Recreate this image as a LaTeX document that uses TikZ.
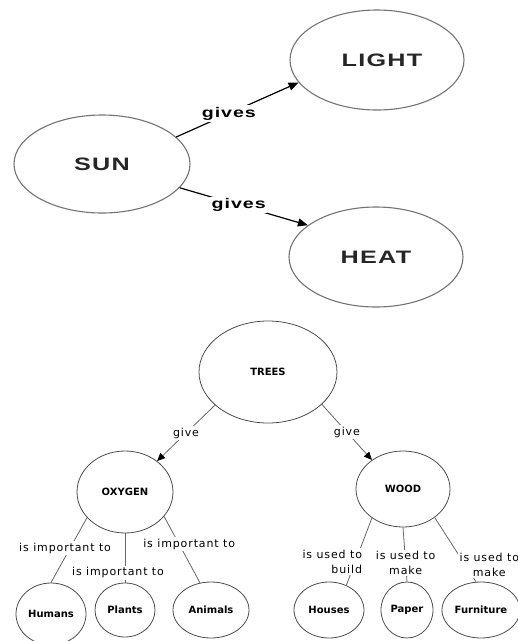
\documentclass[tikz,border=0pt]{standalone}
\usepackage{fontspec}
\usetikzlibrary{shapes.geometric,arrows.meta}
\newfontfamily\topfont{Liberation Sans Bold}[LetterSpace=5]
\newfontfamily\labfont{DejaVu Sans}[LetterSpace=8]
\newfontfamily\nodfont{DejaVu Sans}
\newcommand\toptxt[2]{\scalebox{1.4}[1]{\topfont\fontsize{#1}{#1}\selectfont #2}}
\tikzset{
  topell/.style={ellipse, draw=black!55, line width=1.1pt, inner sep=0pt, text=black!85},
  toplink/.style={draw=black, line width=1.2pt, -{Triangle[length=10pt,width=8pt]}},
  toplab/.style={fill=white, inner sep=1.5pt},
  botell/.style={ellipse, draw=black!70, line width=0.8pt, inner sep=0pt,
     font=\nodfont\bfseries\fontsize{10}{12}\selectfont},
  botline/.style={draw=black!60, line width=0.8pt},
  botarrow/.style={botline, -{Triangle[length=8pt,width=7pt,color=black]}},
  botlab/.style={fill=white, inner sep=1.5pt, font=\labfont\fontsize{11}{15}\selectfont},
}
\begin{document}
\begin{tikzpicture}[x=1pt,y=-1pt]
\useasboundingbox (0,0) rectangle (518,641);
\clip (0,0) rectangle (518,641);
% top map
\node[topell, minimum width=176pt, minimum height=98pt] (sun) at (102,164) {\toptxt{18}{SUN}};
\node[topell, minimum width=174pt, minimum height=100pt] (light) at (377,60) {\hspace*{10pt}\toptxt{18}{LIGHT}};
\node[topell, minimum width=174pt, minimum height=100pt] (heat) at (376,257) {\toptxt{18}{HEAT}};
\draw[toplink] (sun.20) -- node[toplab, pos=0.43] {\toptxt{14}{gives}} (light.196.6);
\draw[toplink] (sun.-17) -- node[toplab, pos=0.46] {\toptxt{14}{gives}} (heat.155);
% bottom map
\node[botell, minimum width=138pt, minimum height=102pt] (trees) at (268,372) {TREES};
\node[botell, minimum width=96pt, minimum height=82pt] (oxygen) at (125,492) {OXYGEN};
\node[botell, minimum width=94pt, minimum height=76pt] (wood) at (403,489) {WOOD};
\node[botell, minimum width=70pt, minimum height=62pt] (humans) at (51,614) {Humans};
\node[botell, minimum width=60pt, minimum height=54pt] (plants) at (125,610) {Plants};
\node[botell, minimum width=76pt, minimum height=56pt] (animals) at (211,610) {Animals};
\node[botell, minimum width=70pt, minimum height=56pt] (houses) at (329,610) {Houses};
\node[botell, minimum width=52pt, minimum height=56pt] (paper) at (407,610) {Paper};
\node[botell, minimum width=78pt, minimum height=56pt] (furniture) at (481,610) {Furniture};
\draw[botarrow] (trees.212.7) -- node[botlab] {give} (oxygen.44);
\draw[botarrow] (trees.-31.4) -- node[botlab] {give} (wood.137);
\draw[botline] (oxygen.214) -- node[botlab, pos=0.47, xshift=-5pt] {is important to} (humans.90);
\draw[botline] (oxygen.south) -- node[botlab, pos=0.8, xshift=-7pt] {is important to} (plants.north);
\draw[botline] (oxygen.-32) -- node[botlab, pos=0.42, xshift=10pt] {is important to} (animals.112);
\draw[botline] (wood.223) -- node[botlab, align=right, pos=0.65, xshift=-23pt] {is used to\\build} (houses.55);
\draw[botline] (wood.south) -- node[botlab, align=center, pos=0.66] {is used to\\make} (paper.north);
\draw[botline] (wood.-42) -- node[botlab, align=center, pos=0.74, xshift=24pt] {is used to\\make} (furniture.100);
\end{tikzpicture}
\end{document}
